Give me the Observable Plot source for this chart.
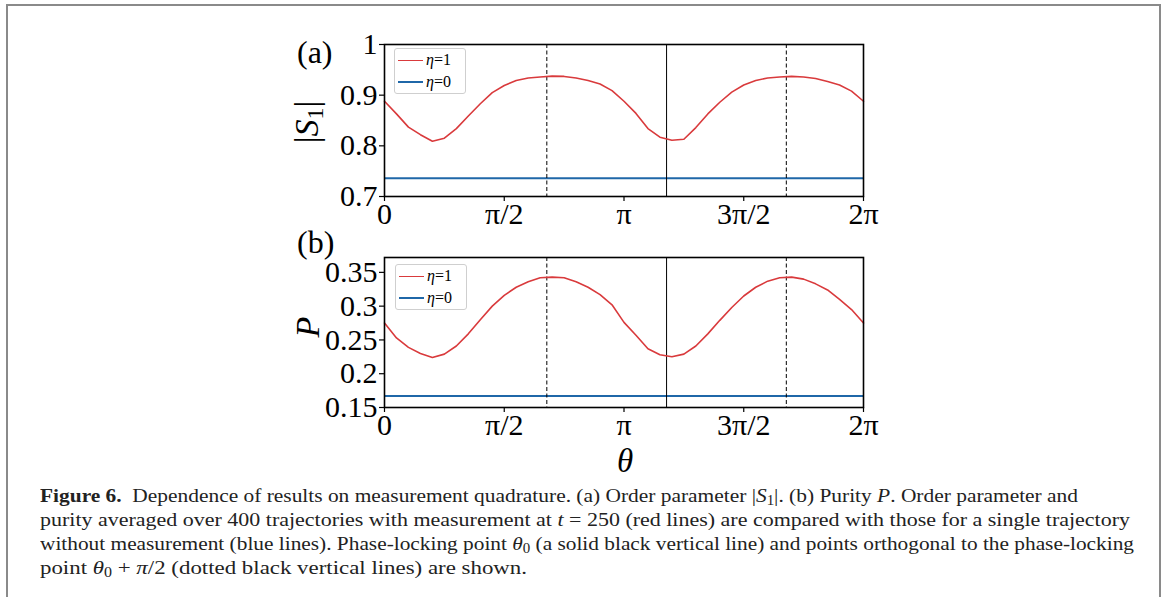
<!DOCTYPE html>
<html>
<head>
<meta charset="utf-8">
<script src="https://cdn.jsdelivr.net/npm/d3@7"></script>
<script src="https://cdn.jsdelivr.net/npm/@observablehq/plot@0.6"></script>
<style>
  html, body { margin: 0; padding: 0; background: white; overflow: hidden; }
  #page { position: relative; width: 1165px; height: 597px; font-family: "Liberation Serif", "DejaVu Serif", serif; }
  #border { position: absolute; left: 6px; top: 4px; width: 1151px; height: 700px; border: 2px solid #8a8a8a; border-bottom: none; }
  .panel { position: absolute; left: 0; top: 0; }
  .lbl { position: absolute; white-space: nowrap; color: black; line-height: 1; }
  .rot { transform-origin: center center; transform: translate(-50%, -50%) rotate(-90deg); }
  .legend { position: absolute; border: 1px solid #cfcfcf; border-radius: 3px; background: rgba(255,255,255,0.85); font-size: 16px; }
  .legend .row { position: absolute; left: 3px; height: 20px; display: flex; align-items: center; white-space: nowrap; }
  .legend .sw { width: 25px; height: 0; margin-right: 3px; }
  .cap { position: absolute; left: 40px; white-space: nowrap; font-size: 19.5px; transform-origin: left center; color: #222; }
  .cap sub { font-size: 0.7em; vertical-align: -0.25em; }
</style>
</head>
<body>
<div id="page">
  <div id="border"></div>
</div>
<script>
// ---------------- data ----------------
const TWO_PI = 2 * Math.PI;
const stepCount = 40; // samples at k * 2π/40
const steps = d3.range(stepCount + 1);

const s1Eta1 = [0.888, 0.863, 0.837, 0.822, 0.809, 0.815, 0.834, 0.859, 0.883, 0.905, 0.919,
                0.929, 0.934, 0.936, 0.9375, 0.937, 0.934, 0.929, 0.922, 0.909, 0.888,
                0.864, 0.834, 0.817, 0.811, 0.813, 0.836, 0.863, 0.886, 0.906, 0.920,
                0.929, 0.934, 0.936, 0.937, 0.936, 0.933, 0.927, 0.920, 0.908, 0.888];
const s1Eta0 = [0.736];

const pEta1 = [0.275, 0.253, 0.239, 0.230, 0.224, 0.229, 0.241, 0.259, 0.280, 0.300, 0.316,
               0.328, 0.336, 0.342, 0.343, 0.342, 0.336, 0.328, 0.317, 0.302, 0.276,
               0.257, 0.237, 0.228, 0.225, 0.229, 0.241, 0.259, 0.279, 0.298, 0.315,
               0.328, 0.337, 0.342, 0.343, 0.340, 0.333, 0.324, 0.310, 0.295, 0.275];
const pEta0 = [0.167];

const theta0 = [3.70];                                   // phase-locking point (solid)
const orthogonal = [3.70 - Math.PI / 2, 3.70 + Math.PI / 2]; // θ0 ± π/2 (dashed)

const xTicks = [0, Math.PI / 2, Math.PI, 3 * Math.PI / 2, TWO_PI];
const xTickLabels = ["0", "π/2", "π", "3π/2", "2π"];
const yTicksA = [0.7, 0.8, 0.9, 1];
const yTicksB = [0.15, 0.2, 0.25, 0.3, 0.35];

const seriesA = steps.map((k, i) => ({theta: k * TWO_PI / stepCount, v: s1Eta1[i]}));
const seriesB = steps.map((k, i) => ({theta: k * TWO_PI / stepCount, v: pEta1[i]}));

const RED = "#d93a3c";
const BLUE = "#1f67a8";
const FONT = "'Liberation Serif', 'DejaVu Serif', serif";
const TICK_FS = 30;

function panel({data, flat, yDomain, yTicks, top, bottom, totalHeight}) {
  return Plot.plot({
    width: 1165,
    height: totalHeight,
    marginLeft: 384,
    marginRight: 302,
    marginTop: top,
    marginBottom: totalHeight - bottom,
    style: {background: "transparent", fontFamily: FONT, fontSize: TICK_FS + "px", overflow: "visible", color: "black"},
    x: {domain: [0, TWO_PI], label: null},
    y: {domain: yDomain, label: null},
    marks: [
      Plot.ruleY(flat, {stroke: BLUE, strokeWidth: 2}),
      Plot.ruleX(orthogonal, {stroke: "black", strokeWidth: 1, strokeDasharray: "4,2.5"}),
      Plot.ruleX(theta0, {stroke: "black", strokeWidth: 1}),
      Plot.line(data, {x: "theta", y: "v", stroke: RED, strokeWidth: 1.6}),
      Plot.frame({stroke: "black", strokeWidth: 1.6}),
      Plot.axisX({ticks: xTicks, tickFormat: d => xTickLabels[xTicks.indexOf(d)], tickSize: 5, tickPadding: 1, strokeWidth: 1.2, fontSize: TICK_FS, label: null}),
      Plot.axisY({ticks: yTicks, tickFormat: d => String(d), tickSize: 5, tickPadding: 2, strokeWidth: 1.2, fontSize: TICK_FS, label: null})
    ]
  });
}

const page = document.getElementById("page");

const a = panel({data: seriesA, flat: s1Eta0, yDomain: [0.7, 1.0], yTicks: yTicksA, top: 44, bottom: 196, totalHeight: 240});
a.classList.add("panel");
page.appendChild(a);

const b = panel({data: seriesB, flat: pEta0, yDomain: [0.15, 0.372], yTicks: yTicksB, top: 257, bottom: 407, totalHeight: 470});
b.classList.add("panel");
page.appendChild(b);

function addHTML(html) {
  const t = document.createElement("template");
  t.innerHTML = html.trim();
  const el = t.content.firstChild;
  page.appendChild(el);
  return el;
}

// panel labels
addHTML(`<div class="lbl" style="left:297px; top:36px; font-size:32px;">(a)</div>`);
addHTML(`<div class="lbl" style="left:297px; top:226px; font-size:32px;">(b)</div>`);

// axis labels
addHTML(`<div class="lbl rot" style="left:309px; top:122px; font-size:34px;">|<i>S</i><span style="font-size:0.7em; vertical-align:-0.2em;">1</span>|</div>`);
addHTML(`<div class="lbl rot" style="left:308px; top:327px; font-size:34px;"><i>P</i></div>`);
addHTML(`<div class="lbl" style="left:625px; top:461px; font-size:33px; transform:translate(-50%,-50%);"><i>θ</i></div>`);

// legends
function legend(left, top) {
  addHTML(`<div class="legend" style="left:${left}px; top:${top}px; width:70px; height:44px;">
    <div class="row" style="top:1px;"><div class="sw" style="border-top:1.6px solid ${RED};"></div><span><i>η</i>=1</span></div>
    <div class="row" style="top:23px;"><div class="sw" style="border-top:2px solid ${BLUE};"></div><span><i>η</i>=0</span></div>
  </div>`);
}
legend(394, 48);
legend(395, 264);

// caption
const captionLines = [
  `<b>Figure 6.</b>&nbsp; Dependence of results on measurement quadrature. (a) Order parameter |<i>S</i><sub>1</sub>|. (b) Purity <i>P</i>. Order parameter and`,
  `purity averaged over 400 trajectories with measurement at <i>t</i> = 250 (red lines) are compared with those for a single trajectory`,
  `without measurement (blue lines). Phase-locking point <i>θ</i><sub>0</sub> (a solid black vertical line) and points orthogonal to the phase-locking`,
  `point <i>θ</i><sub>0</sub> + <i>π</i>/2 (dotted black vertical lines) are shown.`
];
const captionWidths = [1038, 1090, 1094, 487];
captionLines.forEach((html, i) => {
  const el = addHTML(`<div class="cap" style="top:${485 + i * 24}px;">${html}</div>`);
  const w = el.getBoundingClientRect().width;
  el.style.transform = `scaleX(${captionWidths[i] / w})`;
});
</script>
</body>
</html>
